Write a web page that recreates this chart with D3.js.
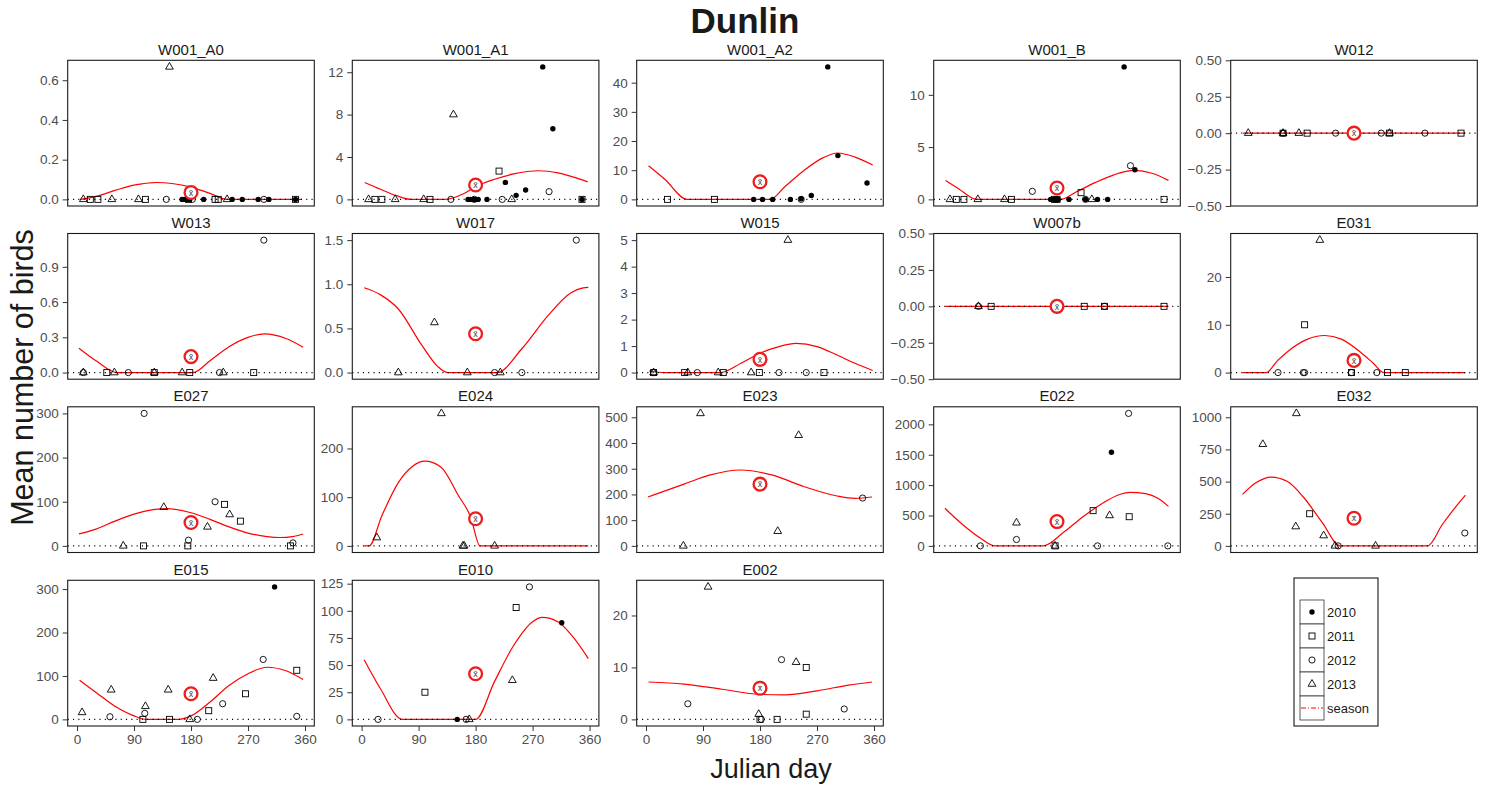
<!DOCTYPE html>
<html>
<head>
<meta charset="utf-8">
<script src="https://cdn.jsdelivr.net/npm/d3@7"></script>
<style>
  body { margin: 0; background: #fff; }
  text { font-family: "Liberation Sans", Arial, sans-serif; }
</style>
</head>
<body>
<svg id="chart" width="1491" height="787"></svg>
<script>
// ---- data -------------------------------------------------------------
const sites = ["W001_A0","W001_A1","W001_A2","W001_B","W012",
               "W013","W017","W015","W007b","E031",
               "E027","E024","E023","E022","E032",
               "E015","E010","E002"];

const yearLevels = [2010, 2011, 2012, 2013];

const yTickValues = [
  [0,0.2,0.4,0.6], [0,4,8,12], [0,10,20,30,40], [0,5,10], [-0.5,-0.25,0,0.25,0.5],
  [0,0.3,0.6,0.9], [0,0.5,1,1.5], [0,1,2,3,4,5], [-0.5,-0.25,0,0.25,0.5], [0,10,20],
  [0,100,200,300], [0,100,200], [0,100,200,300,400,500], [0,500,1000,1500,2000], [0,250,500,750,1000],
  [0,100,200,300], [0,25,50,75,100,125], [0,10,20]
];
const yTickLabels = [
  ["0.0","0.2","0.4","0.6"], ["0","4","8","12"], ["0","10","20","30","40"], ["0","5","10"],
  ["\u22120.50","\u22120.25","0.00","0.25","0.50"],
  ["0.0","0.3","0.6","0.9"], ["0.0","0.5","1.0","1.5"], ["0","1","2","3","4","5"],
  ["\u22120.50","\u22120.25","0.00","0.25","0.50"], ["0","10","20"],
  ["0","100","200","300"], ["0","100","200"], ["0","100","200","300","400","500"],
  ["0","500","1000","1500","2000"], ["0","250","500","750","1000"],
  ["0","100","200","300"], ["0","25","50","75","100","125"], ["0","10","20"]
];

const dayTicks = [0, 90, 180, 270, 360];
const meanDay = 180;

// survey counts per site: [julian day, year, mean number of birds]
const counts = [
  [[10,2013,0],[21,2011,0],[33,2011,0],[55,2013,0],[97,2013,0],[108,2011,0],[141,2012,0],[146,2013,0.667],
   [166,2010,0],[170,2010,0],[174,2010,0],[178,2010,0],[176,2011,0],[182,2012,0],[200,2010,0],[218,2011,0],
   [223,2011,0],[237,2013,0],[245,2010,0],[261,2010,0],[286,2010,0],[295,2012,0],[303,2010,0],[345,2011,0],[345,2010,0]],
  [[11,2013,0],[21,2011,0],[32,2011,0],[53,2013,0],[98,2013,0],[108,2011,0],[141,2012,0],[145,2013,8.0],
   [168,2010,0],[172,2010,0],[176,2010,0],[180,2010,0],[184,2010,0],[178,2012,0],[198,2010,0],[217,2011,2.67],
   [227,2010,1.6],[222,2012,0],[237,2013,0],[244,2010,0.38],[259,2010,0.88],[286,2010,12.5],[296,2012,0.73],
   [302,2010,6.66],[348,2011,0],[348,2010,0]],
  [[34,2011,0],[108,2011,0],[170,2010,0],[184,2010,0],[200,2010,0],[228,2010,0],[245,2010,0.2],[245,2012,0],
   [261,2010,1.37],[287,2010,45.4],[303,2010,15.0],[349,2010,5.6]],
  [[11,2013,0],[21,2011,0],[33,2011,0],[55,2013,0],[97,2013,0],[108,2011,0],[141,2012,0.77],[170,2010,0],
   [174,2010,0],[178,2010,0],[182,2010,0],[176,2011,0],[180,2011,0],[199,2010,0],[218,2011,0.64],[225,2012,0],
   [225,2010,0],[235,2013,0],[244,2010,0],[260,2010,0],[286,2010,12.67],[296,2012,3.22],[303,2010,2.84],[349,2011,0]],
  [[13,2013,0],[68,2013,0],[68,2011,0],[68,2012,0],[93,2013,0],[106,2011,0],[151,2012,0],[223,2012,0],
   [236,2013,0],[236,2011,0],[292,2012,0],[349,2011,0]],
  [[10,2013,0],[10,2012,0],[47,2011,0],[59,2013,0],[81,2012,0],[122,2013,0],[122,2011,0],[166,2013,0],
   [178,2011,0],[225,2012,0],[231,2013,0],[279,2011,0],[295,2012,1.127]],
  [[58,2013,0],[115,2013,0.567],[167,2013,0],[210,2012,0],[219,2013,0],[253,2012,0],[339,2012,1.5]],
  [[12,2013,0],[12,2012,0],[12,2011,0],[61,2011,0],[66,2013,0],[81,2012,0],[114,2013,0],[122,2011,0],
   [166,2013,0],[179,2011,0],[210,2012,0],[224,2013,5.0],[253,2012,0],[281,2011,0]],
  [[56,2013,0],[56,2012,0],[76,2011,0],[223,2011,0],[255,2011,0],[255,2012,0],[349,2011,0]],
  [[60,2012,0],[100,2012,0],[102,2012,0],[102,2011,10],[126,2013,27.7],[176,2011,0],[176,2012,0],
   [216,2012,0],[233,2011,0],[261,2011,0]],
  [[73,2013,0],[105,2011,0],[106,2012,300],[137,2013,87.5],[176,2012,12.9],[175,2011,0],[218,2012,100],
   [233,2011,94],[206,2013,43],[241,2013,71],[258,2011,56],[337,2011,0],[341,2012,6.8]],
  [[24,2013,17],[126,2013,272],[160,2013,0],[162,2013,0],[210,2013,0]],
  [[59,2013,0],[86,2013,515],[208,2013,57],[241,2013,430],[342,2012,186]],
  [[59,2012,0],[116,2012,105],[116,2013,380],[177,2011,0],[177,2013,0],[244,2012,0],[237,2011,580],
   [263,2013,500],[266,2010,1540],[293,2012,2180],[294,2011,480],[355,2012,0]],
  [[36,2013,790],[89,2013,1030],[88,2013,150],[110,2011,250],[132,2013,80],[150,2013,0],[155,2012,0],
   [214,2013,0],[355,2012,100]],
  [[8,2013,16],[54,2013,68],[52,2012,6],[107,2012,14],[108,2013,30],[104,2011,0],[144,2013,68],[146,2011,0],
   [178,2013,0],[190,2012,0],[215,2013,95],[208,2011,20],[230,2012,36],[266,2011,59],[294,2012,138],
   [312,2010,305],[347,2011,113],[347,2012,7]],
  [[26,2012,0],[100,2011,25],[151,2010,0],[165,2012,0],[170,2013,0],[238,2013,36],[244,2011,103],
   [265,2012,122],[316,2010,89]],
  [[66,2012,3],[98,2013,25.5],[178,2013,1],[180,2011,0],[182,2012,0],[207,2011,0],[214,2012,11.5],
   [237,2013,11],[253,2011,10],[253,2011,1],[313,2012,2]]
];

// fitted seasonal pattern per site: [julian day, value]
const seasonFits = [
  [[5,0],[30,0.015],[60,0.045],[90,0.072],[126,0.085],[150,0.08],[180,0.062],[210,0.03],[237,0],[355,0]],
  [[5,1.6],[30,0.95],[55,0.35],[79,0],[132,0],[160,0.5],[180,1.2],[210,1.9],[240,2.4],[280,2.7],[310,2.5],[340,2.0],[357,1.65]],
  [[4,11.5],[30,6.8],[65,0],[196,0],[220,4.5],[250,10],[280,14.3],[303,15.9],[330,14.5],[358,11.8]],
  [[4,1.8],[25,1.0],[53,0],[186,0],[210,0.7],[240,1.6],[270,2.35],[302,2.77],[330,2.5],[356,1.82]],
  [[5,0],[356,0]],
  [[3,0.207],[30,0.1],[63,0],[183,0],[210,0.1],[240,0.22],[270,0.3],[296,0.329],[330,0.29],[357,0.216]],
  [[4,0.96],[30,0.88],[58,0.72],[95,0.31],[120,0.07],[136,0],[214,0],[253,0.27],[295,0.65],[330,0.9],[350,0.96],[358,0.965]],
  [[5,0.06],[30,0],[117,0],[150,0.35],[180,0.73],[210,0.98],[237,1.1],[270,0.98],[300,0.68],[330,0.35],[358,0.08]],
  [[4,0],[356,0]],
  [[4,0],[41,0],[60,2.6],[80,4.9],[105,6.9],[134,7.75],[160,7],[190,4.3],[210,2.0],[227,0],[356,0]],
  [[3,27],[30,38],[60,56],[90,72],[120,82],[142,84.5],[180,75],[210,60],[240,43],[270,29],[300,21],[321,19],[340,21],[357,27]],
  [[4,0],[12,0],[32,62],[58,130],[80,163],[100,174],[125,162],[153,103],[172,60],[187,0],[358,0]],
  [[3,190],[60,240],[100,275],[150,295],[200,275],[250,230],[300,195],[330,185],[357,190]],
  [[3,620],[30,360],[60,120],[82,0],[158,0],[190,220],[220,470],[250,690],[280,850],[295,880],[320,860],[340,780],[356,650]],
  [[4,400],[25,490],[49,535],[75,500],[100,380],[130,180],[158,0],[296,0],[320,170],[340,300],[356,395]],
  [[4,90],[30,62],[60,30],[90,8],[110,0],[160,0],[180,8],[210,40],[240,78],[270,105],[300,120],[330,112],[357,92]],
  [[4,55],[30,28],[64,0],[180,0],[210,35],[240,68],[270,90],[285,94],[310,90],[335,75],[358,56]],
  [[4,7.2],[60,6.8],[120,5.8],[180,4.8],[220,4.7],[270,5.5],[320,6.6],[357,7.2]]
];

const siteMeans = [0.035, 1.36, 6.05, 1.09, 0, 0.136, 0.44, 0.5, 0, 2.55,
                   52.9, 55.7, 240, 400, 215, 59, 42, 6];

// ---- layout -----------------------------------------------------------
const svg = d3.select("#chart");
const colLeft = [67.7, 352.3, 636.7, 933.7, 1230.7];
const rowTop = [60.3, 233.5, 406.8, 580.3];
const pw = 246.6, ph = 145.7;
const ink = "#1a1a1a", axisInk = "#4d4d4d";

function drawSymbol(g, year, cx, cy) {
  if (year === 2010) {
    g.append("circle").attr("cx", cx).attr("cy", cy).attr("r", 2.7)
      .attr("fill", "#000");
  } else if (year === 2011) {
    g.append("rect").attr("x", cx - 3).attr("y", cy - 3).attr("width", 6).attr("height", 6)
      .attr("fill", "none").attr("stroke", "#000").attr("stroke-width", 0.9);
  } else if (year === 2012) {
    g.append("circle").attr("cx", cx).attr("cy", cy).attr("r", 3.1)
      .attr("fill", "none").attr("stroke", "#000").attr("stroke-width", 0.9);
  } else {
    g.append("path").attr("transform", `translate(${cx},${cy})`)
      .attr("d", d3.symbol(d3.symbolTriangle, 26)())
      .attr("fill", "none").attr("stroke", "#000").attr("stroke-width", 0.9);
  }
}

sites.forEach((name, i) => {
  const r = Math.floor(i / 5), c = i % 5;
  const x0 = colLeft[c], y0 = rowTop[r];
  const x = d3.scaleLinear().domain([-14.7, 374.7]).range([x0, x0 + pw]);

  const vals = counts[i].map(d => d[2])
    .concat(seasonFits[i].map(d => d[1]), [siteMeans[i]]);
  const lo = d3.min(vals), hi = d3.max(vals);
  const dom = hi === lo ? [lo - 0.5, hi + 0.5]
                        : [lo - 0.05 * (hi - lo), hi + 0.05 * (hi - lo)];
  const y = d3.scaleLinear().domain(dom).range([y0 + ph, y0]);

  const g = svg.append("g").attr("class", "panel");

  g.append("rect").attr("x", x0).attr("y", y0).attr("width", pw).attr("height", ph)
    .attr("fill", "#fff");

  // seasonal fit
  const line = d3.line().x(d => x(d[0])).y(d => y(d[1])).curve(d3.curveMonotoneX);
  g.append("path").datum(seasonFits[i]).attr("d", line)
    .attr("fill", "none").attr("stroke", "#ff0000").attr("stroke-width", 1.2);

  // zero reference
  g.append("line").attr("x1", x0).attr("x2", x0 + pw)
    .attr("y1", y(0)).attr("y2", y(0))
    .attr("stroke", "#000").attr("stroke-width", 1.1)
    .attr("stroke-dasharray", "1.1 4.2");

  // observations
  const pts = g.append("g");
  counts[i].forEach(d => drawSymbol(pts, d[1], x(d[0]), y(d[2])));

  // overall mean marker
  g.append("circle").attr("cx", x(meanDay)).attr("cy", y(siteMeans[i])).attr("r", 6.4)
    .attr("fill", "#fff").attr("stroke", "#ee1c1c").attr("stroke-width", 2.3);
  g.append("text").attr("x", x(meanDay)).attr("y", y(siteMeans[i]) + 3.2)
    .attr("text-anchor", "middle").attr("font-size", 9).attr("fill", "#444")
    .text("x\u0304");

  // frame
  g.append("rect").attr("x", x0).attr("y", y0).attr("width", pw).attr("height", ph)
    .attr("fill", "none").attr("stroke", "#1a1a1a").attr("stroke-width", 1.1);

  // y axis
  const ax = d3.axisLeft(y).tickValues(yTickValues[i])
    .tickFormat(v => yTickLabels[i][yTickValues[i].indexOf(v)])
    .tickSize(5).tickSizeOuter(0).tickPadding(4);
  const ag = g.append("g").attr("transform", `translate(${x0},0)`).call(ax);
  ag.select(".domain").remove();
  ag.selectAll(".tick line").attr("stroke", "#333");
  ag.selectAll(".tick text").attr("fill", axisInk).attr("font-size", 13.5)
    .attr("font-family", "Liberation Sans, Arial, sans-serif");

  // x axis on the bottom row
  if (r === 3) {
    const bx = d3.axisBottom(x).tickValues(dayTicks).tickSize(5).tickSizeOuter(0).tickPadding(3);
    const bg = g.append("g").attr("transform", `translate(0,${y0 + ph})`).call(bx);
    bg.select(".domain").remove();
    bg.selectAll(".tick line").attr("stroke", "#333");
    bg.selectAll(".tick text").attr("fill", axisInk).attr("font-size", 13.5)
      .attr("font-family", "Liberation Sans, Arial, sans-serif");
  }

  // strip label
  g.append("text").attr("x", x0 + pw / 2).attr("y", y0 - 5.5)
    .attr("text-anchor", "middle").attr("font-size", 15).attr("fill", ink)
    .text(name);
});

// ---- titles -----------------------------------------------------------
svg.append("text").attr("x", 745).attr("y", 33).attr("text-anchor", "middle")
  .attr("font-size", 35).attr("font-weight", "bold").attr("fill", ink).text("Dunlin");
svg.append("text").attr("transform", "translate(33,377.5) rotate(-90)")
  .attr("text-anchor", "middle").attr("font-size", 30.5).attr("fill", ink)
  .text("Mean number of birds");
svg.append("text").attr("x", 771).attr("y", 778).attr("text-anchor", "middle")
  .attr("font-size", 27).attr("fill", ink).text("Julian day");

// ---- legend -----------------------------------------------------------
const lg = svg.append("g");
lg.append("rect").attr("x", 1294).attr("y", 578).attr("width", 84).attr("height", 148)
  .attr("fill", "#fff").attr("stroke", "#000").attr("stroke-width", 1);
const legendItems = yearLevels.map(String).concat(["season"]);
legendItems.forEach((lab, k) => {
  const cy = 612 + 24 * k;
  lg.append("rect").attr("x", 1300).attr("y", cy - 12).attr("width", 24).attr("height", 24)
    .attr("fill", "#fff").attr("stroke", "#333").attr("stroke-width", 0.8);
  if (k < 4) {
    drawSymbol(lg, yearLevels[k], 1312, cy);
  } else {
    lg.append("line").attr("x1", 1301).attr("x2", 1323).attr("y1", cy).attr("y2", cy)
      .attr("stroke", "#ff0000").attr("stroke-width", 1.2).attr("stroke-dasharray", "5 2 1 2");
  }
  lg.append("text").attr("x", 1327).attr("y", cy + 4.5).attr("font-size", 13)
    .attr("fill", ink).text(lab);
});
</script>
</body>
</html>
